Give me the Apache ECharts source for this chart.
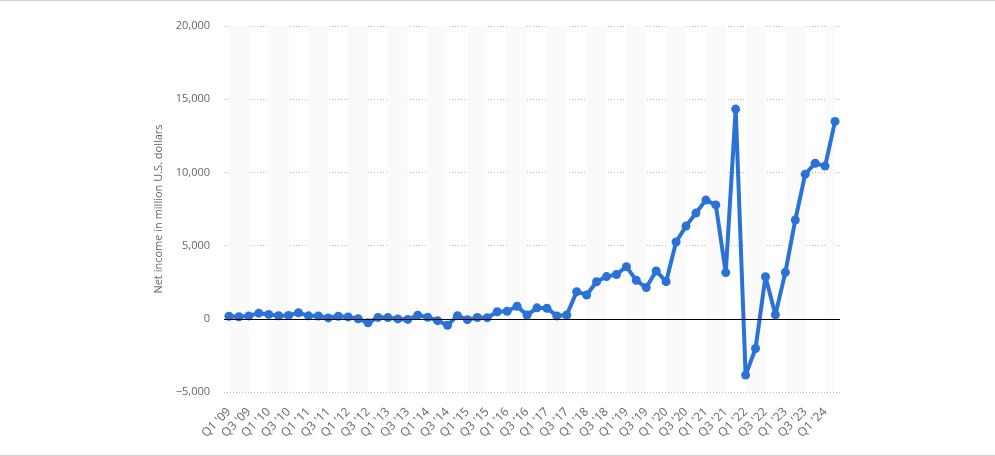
<!DOCTYPE html>
<html><head><meta charset="utf-8">
<script src="https://cdn.jsdelivr.net/npm/echarts@6/dist/echarts.min.js"></script>
<style>html,body{margin:0;padding:0;background:#fff}#c{width:995px;height:456px;box-sizing:border-box;border-top:1px solid #d0d0d0;border-bottom:1px solid #d0d0d0}</style>
</head><body><div id="c"></div>
<script>
const years = ['09','10','11','12','13','14','15','16','17','18','19','20','21','22','23','24'];
const quarters = [];
years.forEach(y => { ['Q1','Q2','Q3','Q4'].forEach(q => quarters.push(q + " '" + y)); });
const categories = quarters.slice(0, 62);
const netIncome = [
  177, 142, 199, 384,
  299, 207, 231, 416,
  201, 191, 63, 177,
  130, 7, -274, 97,
  82, -7, -41, 239,
  108, -126, -437, 214,
  -57, 92, 79, 482,
  513, 857, 252, 749,
  724, 197, 256, 1856,
  1629, 2534, 2883, 3027,
  3561, 2625, 2134, 3268,
  2535, 5243, 6331, 7222,
  8107, 7778, 3156, 14323,
  -3844, -2028, 2872, 278,
  3172, 6750, 9879, 10624,
  10431, 13485
];
const yTicks = { min: -5000, max: 20000, interval: 5000 };
const yAxisName = 'Net income in million U.S. dollars';

// alternating background stripes spanning two label positions
const stripes = [];
for (let i = 0; i < categories.length; i += 4) {
  const end = Math.min(i + 2, categories.length - 1);
  if (end > i) stripes.push([{ xAxis: categories[i] }, { xAxis: categories[end] }]);
}

const chart = echarts.init(document.getElementById('c'));
chart.setOption({
  animation: false,
  grid: { left: 224, right: 155, top: 25, bottom: 63 },
  xAxis: {
    type: 'category',
    data: categories,
    boundaryGap: true,
    axisLine: { show: false },
    axisTick: { show: false },
    axisLabel: { interval: 1, rotate: 45, color: '#666', fontSize: 12, fontFamily: 'Open Sans', margin: 18 },
    splitArea: { show: false }
  },
  yAxis: {
    type: 'value',
    min: yTicks.min, max: yTicks.max, interval: yTicks.interval,
    name: yAxisName,
    nameLocation: 'middle',
    nameGap: 53,
    nameTextStyle: { color: '#666', fontSize: 11, fontFamily: 'Open Sans' },
    axisLine: { show: false },
    axisTick: { show: false },
    axisLabel: { color: '#666', fontSize: 11, fontFamily: 'Open Sans', margin: 14,
      formatter: v => v.toLocaleString('en-US').replace('-', '\u2212') },
    splitLine: { lineStyle: { color: '#bbb', type: [1, 2], width: 1 } }
  },
  series: [{
    type: 'line',
    data: netIncome,
    symbol: 'circle',
    symbolSize: 9,
    showAllSymbol: true,
    lineStyle: { color: '#2a72d8', width: 4 },
    itemStyle: { color: '#2a72d8' },
    markLine: {
      silent: true, symbol: 'none', label: { show: false },
      lineStyle: { color: '#000', type: 'solid', width: 1 },
      data: [{ yAxis: 0 }]
    },
    markArea: {
      silent: true,
      itemStyle: { color: '#fafafa' },
      data: stripes
    },
    z: 3
  }]
});
</script></body></html>
